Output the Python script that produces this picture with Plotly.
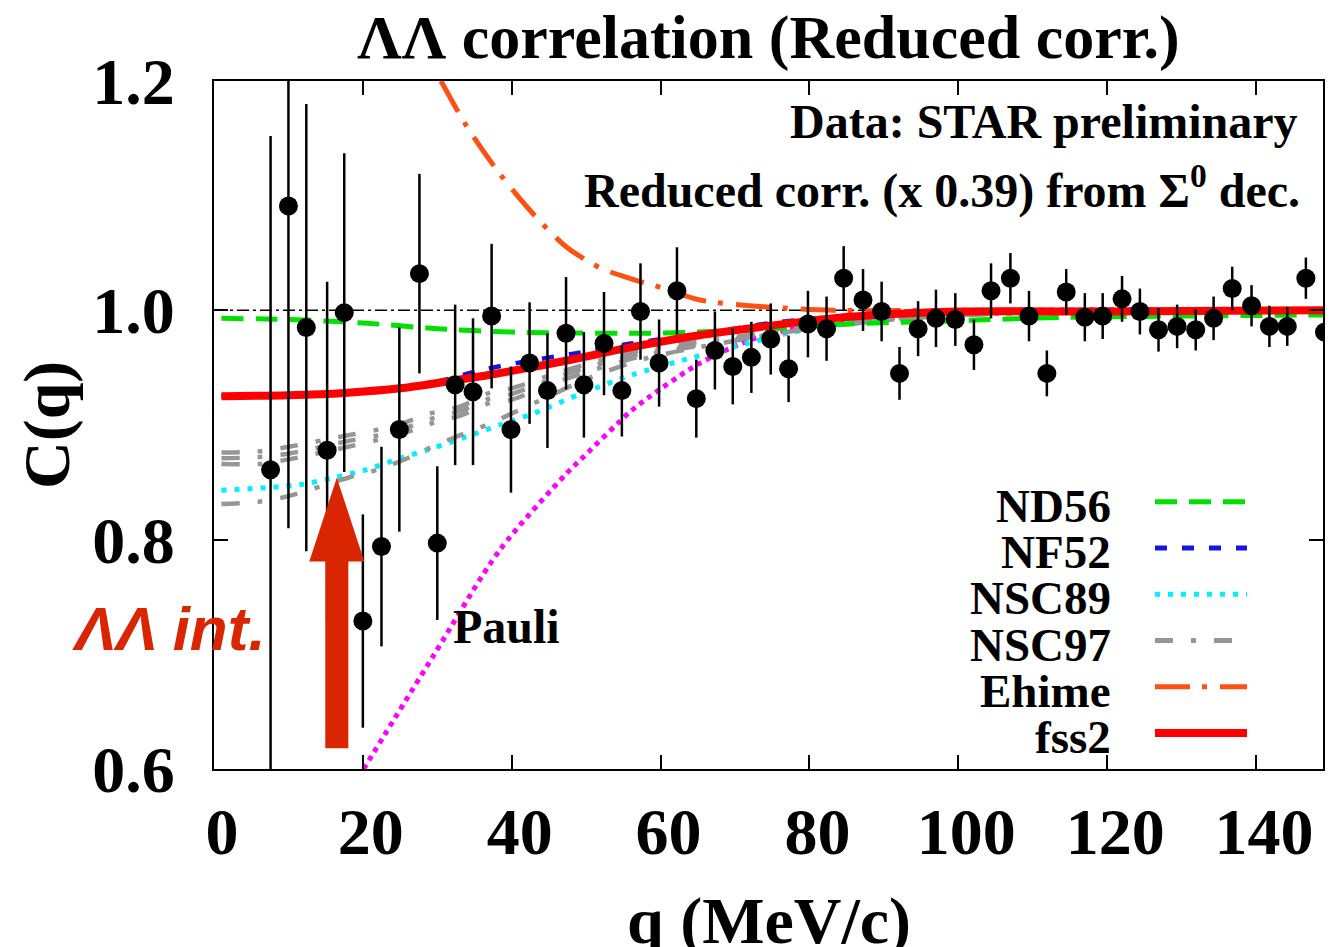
import plotly.graph_objects as go

# ---- measured correlation function (STAR preliminary) ----
q_data = [7.6, 10.0, 12.4, 15.2, 17.5, 20.0, 22.5, 24.9, 27.6, 30.0, 32.4, 34.8,
          37.3, 39.9, 42.4, 44.8, 47.3, 49.7, 52.4, 54.8, 57.3, 59.8, 62.2, 64.8,
          67.3, 69.7, 72.2, 74.8, 77.2, 79.8, 82.3, 84.6, 87.2, 89.7, 92.1, 94.6,
          97.0, 99.6, 102.1, 104.4, 107.0, 109.5, 111.9, 114.5, 117.0, 119.4, 122.0,
          124.4, 126.9, 129.4, 131.9, 134.3, 136.8, 139.4, 141.8, 144.2, 146.7, 149.2]
c_data = [0.861, 1.091, 0.985, 0.878, 0.998, 0.729, 0.794, 0.896, 1.032, 0.797, 0.935, 0.929,
          0.995, 0.896, 0.954, 0.930, 0.980, 0.935, 0.971, 0.930, 0.999, 0.954, 1.017, 0.923,
          0.965, 0.951, 0.959, 0.975, 0.949, 0.988, 0.984, 1.028, 1.009, 0.999, 0.945, 0.984,
          0.993, 0.992, 0.970, 1.017, 1.028, 0.995, 0.945, 1.016, 0.994, 0.995, 1.010,
          0.999, 0.983, 0.986, 0.983, 0.993, 1.019, 1.004, 0.986, 0.986, 1.028, 0.981]
c_err = [0.291, 0.281, 0.195, 0.147, 0.139, 0.093, 0.087, 0.089, 0.087, 0.067, 0.070, 0.064,
         0.063, 0.055, 0.053, 0.050, 0.049, 0.046, 0.045, 0.040, 0.042, 0.038, 0.038, 0.034,
         0.034, 0.033, 0.031, 0.031, 0.029, 0.029, 0.028, 0.028, 0.027, 0.026, 0.023, 0.024,
         0.025, 0.023, 0.022, 0.024, 0.022, 0.022, 0.020, 0.020, 0.021, 0.020, 0.020,
         0.020, 0.019, 0.019, 0.018, 0.019, 0.019, 0.018, 0.018, 0.017, 0.018, 0.018]

# ---- model curves ----
nd56_q = [1, 10, 20, 30, 40, 57, 65, 75, 85, 100, 115, 130, 149]
nd56_c = [0.993, 0.992, 0.989, 0.984, 0.981, 0.980, 0.981, 0.984, 0.988, 0.991, 0.994, 0.995, 0.996]

nf52_q = [1, 20, 30, 36, 41.5, 50, 56, 67, 75, 85, 100, 149]
nf52_c = [0.925, 0.929, 0.938, 0.948, 0.955, 0.964, 0.971, 0.981, 0.989, 0.995, 0.999, 1.0]

nsc89_q = [1, 11.6, 16, 20.5, 25, 29.5, 34, 38.4, 42.9, 49.2, 56.3, 64.4, 69.7, 77.8, 85, 100, 149]
nsc89_c = [0.843, 0.848, 0.854, 0.861, 0.871, 0.880, 0.890, 0.900, 0.910, 0.927, 0.944, 0.959,
           0.968, 0.981, 0.989, 0.998, 1.0]

nsc97_q = [1, 6, 10, 18, 22, 26, 29, 33, 37, 40, 45, 50, 58, 67, 80, 95, 110, 149]
nsc97_c = [
    [0.876, 0.877, 0.881, 0.891, 0.896, 0.903, 0.910, 0.916, 0.928, 0.932, 0.943, 0.953,
     0.966, 0.974, 0.986, 0.995, 0.998, 1.0],
    [0.871, 0.872, 0.875, 0.886, 0.891, 0.898, 0.905, 0.912, 0.923, 0.927, 0.939, 0.950,
     0.963, 0.972, 0.985, 0.994, 0.998, 1.0],
    [0.866, 0.866, 0.870, 0.881, 0.887, 0.894, 0.901, 0.908, 0.919, 0.922, 0.935, 0.946,
     0.961, 0.971, 0.984, 0.994, 0.998, 1.0],
    [0.831, 0.833, 0.838, 0.854, 0.861, 0.871, 0.880, 0.891, 0.901, 0.910, 0.925, 0.940,
     0.958, 0.970, 0.984, 0.994, 0.998, 1.0],
]

ehime_q = [30.5, 34.0, 38.4, 42.9, 47.4, 51.9, 56.3, 60.0, 65.3, 74.2, 83.2, 100, 149]
ehime_c = [1.200, 1.160, 1.119, 1.084, 1.055, 1.037, 1.027, 1.020, 1.009, 1.003, 1.000, 1.0, 1.0]

fss2_q = [1, 10, 17.5, 25, 32.4, 37.3, 42.4, 47.3, 52.4, 57, 65, 74, 83, 92, 101, 120, 149]
fss2_c = [0.925, 0.926, 0.928, 0.932, 0.939, 0.944, 0.950, 0.956, 0.963, 0.969, 0.978,
          0.986, 0.993, 0.997, 0.999, 0.999, 1.0]

pauli_q = [20.1, 29.5, 38.4, 47.4, 49.6, 56.0, 58.6, 65.3, 72.9, 85, 100, 149]
pauli_c = [0.600, 0.699, 0.791, 0.858, 0.872, 0.912, 0.925, 0.954, 0.976, 0.992, 0.999, 1.0]

# ---- axes ----
X_RANGE = [0, 149]
Y_RANGE = [0.6, 1.2]
x_ticks = [0, 20, 40, 60, 80, 100, 120, 140]
y_ticks = [0.6, 0.8, 1.0, 1.2]
y_ticktext = ["0.6", "0.8", "1.0", "1.2"]

SERIF = "Liberation Serif"
GREEN = "rgb(0,225,0)"
BLUE = "rgb(20,20,230)"
CYAN = "rgb(0,240,255)"
GRAY = "rgb(150,150,150)"
ORANGE = "rgb(255,80,20)"
RED = "rgb(255,0,0)"
MAGENTA = "rgb(255,0,255)"
ARROW_RED = "rgb(218,38,0)"

DASH_ND56 = "22px,12px"
DASH_NF52 = "12px,15px"
DASH_NSC89 = "5px,8px"
DASH_NSC97 = "18px,18px,5px,18px"
DASH_EHIME = "35px,12px,5px,13px"
DASH_PAULI = "5px,5px"

fig = go.Figure()

# unit reference line
fig.add_shape(type="line", xref="x", yref="y", x0=X_RANGE[0], x1=X_RANGE[1], y0=1.0, y1=1.0,
              line=dict(color="black", width=1.5, dash="12px,4px,3px,4px"), layer="below")

def curve(x, y, color, width, dash):
    fig.add_trace(go.Scatter(x=x, y=y, mode="lines", showlegend=False,
                             line=dict(color=color, width=width, dash=dash, shape="spline",
                                       smoothing=0.8),
                             hoverinfo="skip"))

curve(pauli_q, pauli_c, MAGENTA, 5, DASH_PAULI)
curve(nsc89_q, nsc89_c, CYAN, 5, DASH_NSC89)
for band in nsc97_c:
    curve(nsc97_q, band, GRAY, 4.5, DASH_NSC97)
curve(nf52_q, nf52_c, BLUE, 4.5, DASH_NF52)
curve(nd56_q, nd56_c, GREEN, 5, DASH_ND56)
curve(ehime_q, ehime_c, ORANGE, 5, DASH_EHIME)
curve(fss2_q, fss2_c, RED, 8, "solid")

# data points with statistical errors
fig.add_trace(go.Scatter(
    x=q_data, y=c_data, mode="markers", showlegend=False,
    marker=dict(symbol="circle", size=19, color="black"),
    error_y=dict(type="data", array=c_err, visible=True, color="black",
                 thickness=2.5, width=0),
))

# big red arrow marking the LambdaLambda interaction effect
ARROW_X = 16.5
ARROW_BASE = 0.618
ARROW_HEAD = 0.781
ARROW_TIP = 0.854
SHAFT_HALF = 1.55
HEAD_HALF = 3.7
arrow_path = (
    f"M {ARROW_X - SHAFT_HALF},{ARROW_BASE} L {ARROW_X + SHAFT_HALF},{ARROW_BASE} "
    f"L {ARROW_X + SHAFT_HALF},{ARROW_HEAD} L {ARROW_X + HEAD_HALF},{ARROW_HEAD} "
    f"L {ARROW_X},{ARROW_TIP} L {ARROW_X - HEAD_HALF},{ARROW_HEAD} "
    f"L {ARROW_X - SHAFT_HALF},{ARROW_HEAD} Z"
)
fig.add_shape(type="path", xref="x", yref="y", path=arrow_path,
              fillcolor=ARROW_RED, line=dict(width=0), layer="above")

# ---- legend (text right-aligned, sample to its right) ----
legend_rows = [
    ("ND56", GREEN, 5, DASH_ND56),
    ("NF52", BLUE, 5, DASH_NF52),
    ("NSC89", CYAN, 5, DASH_NSC89),
    ("NSC97", GRAY, 5, DASH_NSC97),
    ("Ehime", ORANGE, 5, DASH_EHIME),
    ("fss2", RED, 8, "solid"),
]
LEG_TEXT_X = 0.8107
LEG_LINE_X0 = 0.8485
LEG_LINE_X1 = 0.9315
LEG_TOP = 0.3883
LEG_STEP = 0.0672
for i, (name, color, w, dash) in enumerate(legend_rows):
    yy = LEG_TOP - i * LEG_STEP
    fig.add_shape(type="line", xref="paper", yref="paper",
                  x0=LEG_LINE_X0, x1=LEG_LINE_X1, y0=yy, y1=yy,
                  line=dict(color=color, width=w, dash=dash))
    fig.add_annotation(xref="paper", yref="paper", x=LEG_TEXT_X, y=yy, yshift=-4,
                       text=f"<b>{name}</b>", showarrow=False,
                       xanchor="right", yanchor="middle",
                       font=dict(family=SERIF, size=47, color="black"))

# ---- text labels ----
fig.add_annotation(xref="x", yref="y", x=145.9, y=1.165, text="<b>Data: STAR preliminary</b>",
                   showarrow=False, xanchor="right", yanchor="middle",
                   font=dict(family=SERIF, size=48, color="black"))
fig.add_annotation(xref="x", yref="y", x=146.2, y=1.107,
                   text="<b>Reduced corr. (x 0.39) from Σ<sup>0</sup> dec.</b>",
                   showarrow=False, xanchor="right", yanchor="middle",
                   font=dict(family=SERIF, size=48, color="black"))
fig.add_annotation(xref="x", yref="y", x=39.3, y=0.724, text="<b>Pauli</b>",
                   showarrow=False, xanchor="center", yanchor="middle",
                   font=dict(family=SERIF, size=48, color="black"))
fig.add_annotation(xref="paper", yref="paper", x=-0.041, y=0.204,
                   text="<b><i>ΛΛ int.</i></b>", showarrow=False,
                   xanchor="center", yanchor="middle",
                   font=dict(family="Liberation Sans", size=62, color=ARROW_RED))

# axis titles
fig.add_annotation(xref="paper", yref="paper", x=0.5, y=0, yshift=-152,
                   text="<b>q (MeV/c)</b>", showarrow=False,
                   xanchor="center", yanchor="middle",
                   font=dict(family=SERIF, size=66, color="black"))
fig.add_annotation(xref="paper", yref="paper", x=0, xshift=-167, y=0.5,
                   text="<b>C(q)</b>", showarrow=False, textangle=-90,
                   xanchor="center", yanchor="middle",
                   font=dict(family=SERIF, size=66, color="black"))

axis_common = dict(showgrid=False, zeroline=False, showline=True, linecolor="black",
                   linewidth=2, mirror="ticks", ticks="inside", ticklen=14,
                   tickwidth=2, tickcolor="black",
                   tickfont=dict(family=SERIF, size=66, color="black"))

fig.update_layout(
    width=1330, height=947,
    margin=dict(l=214, r=7, t=81, b=178, pad=0, autoexpand=False),
    paper_bgcolor="white", plot_bgcolor="white",
    showlegend=False,
    title=dict(text="<b>ΛΛ correlation (Reduced corr.)</b>", x=0.5, xref="paper",
               xanchor="center", y=1 - 36 / 947, yanchor="middle",
               font=dict(family=SERIF, size=62, color="black")),
    xaxis=dict(range=X_RANGE, tickvals=x_ticks, ticktext=[f"<b>{v}</b>" for v in x_ticks],
               ticklabelstandoff=4, ticklabelshift=8, **axis_common),
    yaxis=dict(range=Y_RANGE, tickvals=y_ticks, ticktext=[f"<b>{t}</b>" for t in y_ticktext],
               ticklabelstandoff=24, **axis_common),
)

fig.write_html("out.html")
